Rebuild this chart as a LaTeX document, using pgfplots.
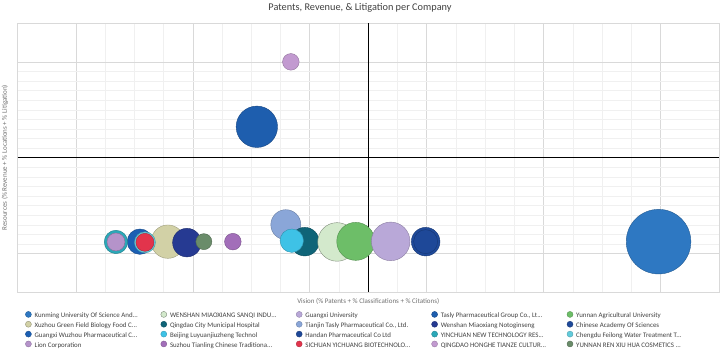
\documentclass[border=0pt]{standalone}
\usepackage{pgfplots}
\pgfplotsset{compat=1.18}
\usepackage{fontspec}
\setmainfont{Carlito}
\definecolor{cKunming}{HTML}{2E78C2}
\definecolor{cWenSanqi}{HTML}{D3E9CC}
\definecolor{cGxUniv}{HTML}{B9A8D8}
\definecolor{cTasly}{HTML}{1E5EAE}
\definecolor{cYunAg}{HTML}{6DBE68}
\definecolor{cXuzhou}{HTML}{D2D1A6}
\definecolor{cQdCity}{HTML}{0F6478}
\definecolor{cTianjin}{HTML}{8AA6D8}
\definecolor{cWenNoto}{HTML}{263A92}
\definecolor{cCAS}{HTML}{1F4A9A}
\definecolor{cGxWuzhou}{HTML}{1B5FB3}
\definecolor{cBeijing}{HTML}{3EC2E6}
\definecolor{cHandan}{HTML}{1E4898}
\definecolor{cYinchuan}{HTML}{2BA8B8}
\definecolor{cChengdu}{HTML}{62CBDB}
\definecolor{cLion}{HTML}{B593CA}
\definecolor{cSuzhou}{HTML}{A26EB9}
\definecolor{cSichuan}{HTML}{E2344C}
\definecolor{cQdHonghe}{HTML}{C29AD0}
\definecolor{cYunRen}{HTML}{6A8C6A}
\definecolor{gridmaj}{HTML}{D9D9D9}
\definecolor{gridmin}{HTML}{F0F0F0}
\definecolor{txt}{HTML}{404040}
\newcommand{\LE}[1]{\addlegendentry{\makebox[126pt][l]{#1}}}
\begin{document}
\begin{tikzpicture}[x=1pt,y=1pt]
\useasboundingbox (0,0) rectangle (722,359);
\node[font=\fontsize{10.3}{12}\selectfont, text=txt] at (360,351) {Patents, Revenue, \& Litigation per Company};
\begin{axis}[
  at={(17.5pt,67pt)}, anchor=south west,
  scale only axis, width=701.5pt, height=268.5pt,
  xmin=-0.5, xmax=5.5, ymin=-0.4, ymax=2.4,
  xtick={0,1,2,3,4,5}, ytick={0,1,2},
  minor x tick num=3, minor y tick num=9,
  xticklabels={}, yticklabels={},
  major tick length=0pt, minor tick length=0pt,
  grid=both,
  major grid style={draw=gridmaj, line width=0.6pt},
  minor grid style={draw=gridmin, line width=0.5pt},
  axis line style={draw=gridmaj, line width=0.6pt},
  extra x ticks={2.5}, extra y ticks={1},
  extra x tick labels={}, extra y tick labels={},
  extra tick style={grid=major, major grid style={draw=black, line width=0.9pt}},
  xlabel={Vision (\% Patents + \% Classifications + \% Citations)},
  ylabel={Resources (\% Revenue + \% Locations + \% Litigation)},
  every axis x label/.style={at={(axis description cs:0.5,-0.011)}, anchor=north,
    font=\fontsize{7}{8}\selectfont, text=txt!75},
  every axis y label/.style={at={(axis description cs:-0.0085,0.5)}, rotate=90, anchor=south,
    font=\fontsize{7}{8}\selectfont, text=txt!75},
  bub/.style={only marks, mark=*, mark options={fill=#1, draw=#1!75!black, line width=0.4pt}},
  legend columns=5,
  legend style={draw=none, fill=none, inner sep=0pt,
    at={(axis description cs:0.0107,-0.0708)}, anchor=north west,
    font=\fontsize{6.9}{7}\selectfont, text=txt,
    nodes={inner sep=0pt, text height=4.8pt, text depth=1.7pt},
    row sep=1.4pt,
    /tikz/every odd column/.append style={column sep=3pt}},
  legend cell align=left,
  legend image code/.code={\filldraw[#1] (3pt,2pt) circle (3pt);},
]
% legend
\addlegendimage{fill=cKunming, draw=cKunming!80!black}\LE{Kunming University Of Science And...}
\addlegendimage{fill=cWenSanqi, draw=cWenSanqi!60!black}\LE{WENSHAN MIAOXIANG SANQI INDU...}
\addlegendimage{fill=cGxUniv, draw=cGxUniv!80!black}\LE{Guangxi University}
\addlegendimage{fill=cTasly, draw=cTasly!80!black}\LE{Tasly Pharmaceutical Group Co., Lt...}
\addlegendimage{fill=cYunAg, draw=cYunAg!80!black}\LE{Yunnan Agricultural University}
\addlegendimage{fill=cXuzhou, draw=cXuzhou!70!black}\LE{Xuzhou Green Field Biology Food C...}
\addlegendimage{fill=cQdCity, draw=cQdCity!80!black}\LE{Qingdao City Municipal Hospital}
\addlegendimage{fill=cTianjin, draw=cTianjin!80!black}\LE{Tianjin Tasly Pharmaceutical Co., Ltd.}
\addlegendimage{fill=cWenNoto, draw=cWenNoto!80!black}\LE{Wenshan Miaoxiang Notoginseng}
\addlegendimage{fill=cCAS, draw=cCAS!80!black}\LE{Chinese Academy Of Sciences}
\addlegendimage{fill=cGxWuzhou, draw=cGxWuzhou!80!black}\LE{Guangxi Wuzhou Pharmaceutical C...}
\addlegendimage{fill=cBeijing, draw=cBeijing!80!black}\LE{Beijing Luyuanjiuzheng Technol}
\addlegendimage{fill=cHandan, draw=cHandan!80!black}\LE{Handan Pharmaceutical Co Ltd}
\addlegendimage{fill=cYinchuan, draw=cYinchuan!80!black}\LE{YINCHUAN NEW TECHNOLOGY RES...}
\addlegendimage{fill=cChengdu, draw=cChengdu!80!black}\LE{Chengdu Feilong Water Treatment T...}
\addlegendimage{fill=cLion, draw=cLion!80!black}\LE{Lion Corporation}
\addlegendimage{fill=cSuzhou, draw=cSuzhou!80!black}\LE{Suzhou Tianling Chinese Traditiona...}
\addlegendimage{fill=cSichuan, draw=cSichuan!80!black}\LE{SICHUAN YICHUANG BIOTECHNOLO...}
\addlegendimage{fill=cQdHonghe, draw=cQdHonghe!80!black}\LE{QINGDAO HONGHE TIANZE CULTUR...}
\addlegendimage{fill=cYunRen, draw=cYunRen!80!black}\LE{YUNNAN REN XIU HUA COSMETICS ...}
% bubbles (x, y), radius in pt
\addplot[bub=cKunming, mark size=32.3pt, forget plot] coordinates {(4.983,0.125)};
\addplot[bub=cTasly, mark size=20.7pt, forget plot] coordinates {(1.547,1.323)};
\addplot[bub=cGxWuzhou, mark size=12.7pt, forget plot] coordinates {(0.547,0.125)};
\addplot[bub=cXuzhou, mark size=16.7pt, forget plot] coordinates {(0.786,0.125)};
\addplot[bub=cWenNoto, mark size=14.3pt, forget plot] coordinates {(0.949,0.115)};
\addplot[bub=cYunRen, mark size=8pt, forget plot] coordinates {(1.094,0.125)};
\addplot[bub=cTianjin, mark size=15pt, forget plot] coordinates {(1.795,0.302)};
\addplot[bub=cQdCity, mark size=14.3pt, forget plot] coordinates {(1.957,0.125)};
\addplot[bub=cBeijing, mark size=11.7pt, forget plot] coordinates {(1.846,0.135)};
\addplot[only marks, mark=*, mark size=19.3pt, mark options={fill=cWenSanqi, draw=cWenSanqi!60!black, line width=0.4pt}, forget plot] coordinates {(2.233,0.122)};
\addplot[bub=cYunAg, mark size=19pt, forget plot] coordinates {(2.393,0.128)};
\addplot[bub=cGxUniv, mark size=19.3pt, forget plot] coordinates {(2.692,0.128)};
\addplot[bub=cCAS, mark size=14.3pt, forget plot] coordinates {(2.991,0.125)};
\addplot[bub=cHandan, mark size=12pt, forget plot] coordinates {(2.991,0.125)};
\addplot[bub=cYinchuan, mark size=11.7pt, forget plot] coordinates {(0.342,0.122)};
\addplot[bub=cLion, mark size=9pt, forget plot] coordinates {(0.342,0.122)};
\addplot[bub=cChengdu, mark size=10.5pt, forget plot] coordinates {(0.590,0.118)};
\addplot[bub=cSichuan, mark size=9pt, forget plot] coordinates {(0.590,0.118)};
\addplot[bub=cSuzhou, mark size=8.3pt, forget plot] coordinates {(1.342,0.125)};
\addplot[bub=cQdHonghe, mark size=8.3pt, forget plot] coordinates {(1.838,2.0)};
\end{axis}
\end{tikzpicture}
\end{document}
